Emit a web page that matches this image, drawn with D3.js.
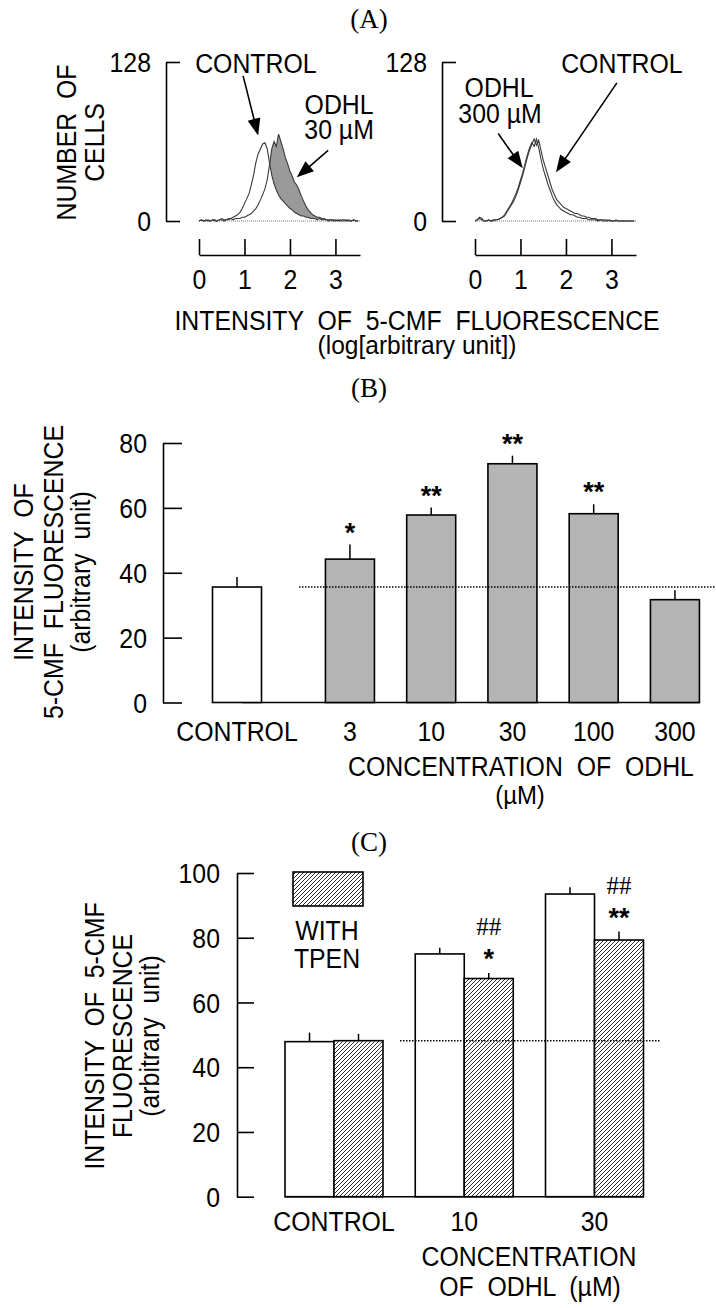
<!DOCTYPE html>
<html><head><meta charset="utf-8">
<script src="https://cdn.jsdelivr.net/npm/d3@7"></script>
<style>
body{margin:0;background:#fff}
svg{display:block}
</style>
</head><body>
<svg id="chart" width="716" height="1308"></svg>
<script>
// ---------------- DATA ----------------
// Panel A: flow-cytometry histograms (counts per 0.05 log-unit bin, from 0 to 3.5)
const histBinWidth = 0.05;
const histXTicks = [0, 1, 2, 3];
const histYTicks = [0, 128];
const histLeftControl = [0,1,0,1,0,0,1,1,0,1,2,1,1,2,2,3,4,5,7,10,14,18,22,29,37,47,54,58,62,63,58,47,37,30,25,21,18,16,14,12,10,9,7,6,5,4,4,3,3,2,2,2,1,2,1,1,1,0,1,1,0,1,0,1,1,0,1,0,1,0,0];
const histLeftODHL30 = [0,1,0,0,1,0,1,0,0,1,1,0,1,1,2,1,2,2,2,3,3,4,5,6,8,10,13,17,21,26,33,45,58,64,60,70,64,58,51,46,40,36,31,29,25,20,16,12,9,7,5,4,3,3,2,2,1,1,1,0,1,0,1,0,0,1,0,0,1,0,0];
const histRightControl = [0,1,3,2,0,0,1,0,1,1,1,2,3,4,7,10,13,16,20,25,31,37,44,51,57,62,66,61,65,57,49,43,37,31,25,21,17,15,13,11,10,9,8,7,6,6,5,4,4,3,3,2,2,2,1,1,1,1,0,1,0,0,1,0,0,0,0,0,0,0,0];
const histRightODHL300 = [0,1,2,1,0,0,1,0,0,1,1,2,3,5,8,11,14,18,22,27,33,39,46,53,59,63,60,66,59,50,42,36,30,25,20,16,13,11,9,8,7,6,5,5,4,3,3,2,2,2,1,1,1,1,0,1,0,0,1,0,0,0,0,0,0,0,0,0,0,0,0];

// Panel B: concentration dependence
const concCategories = ["CONTROL", "3", "10", "30", "100", "300"];
const concMeans = [35.6, 44.2, 57.8, 73.6, 58.2, 31.7];
const concSEM = [3.1, 4.5, 2.3, 2.5, 2.9, 2.9];
const concSig = ["", "*", "**", "**", "**", ""];
const concYTicks = [0, 20, 40, 60, 80];

// Panel C: effect of TPEN
const tpenCategories = ["CONTROL", "10", "30"];
const tpenWithout = [47.9, 75.0, 93.5];
const tpenWithoutSEM = [2.8, 1.9, 2.1];
const tpenWith = [48.2, 67.4, 79.3];
const tpenWithSEM = [2.1, 1.7, 2.6];
const tpenSigStar = ["", "*", "**"];
const tpenSigHash = ["", "##", "##"];
const tpenYTicks = [0, 20, 40, 60, 80, 100];

// ---------------- HELPERS ----------------
const FONT = '"Liberation Sans", Arial, Helvetica, sans-serif';
const SERIF = '"Liberation Serif", "Times New Roman", serif';
const FS = 27, SX = 0.92;
const svg = d3.select("#chart");

const defs = svg.append("defs");
const pat = defs.append("pattern").attr("id", "hatch").attr("patternUnits", "userSpaceOnUse")
  .attr("width", 4).attr("height", 4);
pat.append("rect").attr("width", 4).attr("height", 4).attr("fill", "#fff");
pat.append("path").attr("d", "M-1,1L1,-1M0,4L4,0M3,5L5,3").attr("stroke", "#333").attr("stroke-width", 1);

function txt(g, s, x, y, o = {}) {
  const sx = o.sx !== undefined ? o.sx : (o.family === SERIF || o.weight === "bold" ? 1 : SX);
  return g.append("text").attr("transform", `translate(${x},${y}) scale(${sx},1)`)
    .attr("text-anchor", o.anchor || "middle")
    .attr("font-size", o.size || FS)
    .attr("font-family", o.family || FONT)
    .attr("font-weight", o.weight || "normal")
    .attr("fill", "#000")
    .attr("xml:space", "preserve").style("white-space", "pre")
    .text(s);
}
function vtxt(g, s, bx, cy) {
  return g.append("text").attr("transform", `translate(${bx},${cy}) rotate(-90) scale(${SX},1)`)
    .attr("text-anchor", "middle").attr("font-size", FS).attr("font-family", FONT)
    .attr("fill", "#000").attr("xml:space", "preserve").style("white-space", "pre").text(s);
}
function arrow(g, x1, y1, x2, y2) {
  const dx = x2 - x1, dy = y2 - y1, L = Math.hypot(dx, dy), ux = dx / L, uy = dy / L;
  const hl = 17, hw = 6.5;
  const bx = x2 - ux * hl, by = y2 - uy * hl;
  g.append("line").attr("x1", x1).attr("y1", y1).attr("x2", bx + ux * 2).attr("y2", by + uy * 2)
    .attr("stroke", "#000").attr("stroke-width", 1.6);
  g.append("path").attr("d", `M${x2},${y2}L${bx - uy * hw},${by + ux * hw}L${bx + uy * hw},${by - ux * hw}Z`)
    .attr("fill", "#000");
}
function styleAxis(g) {
  g.attr("font-size", FS).attr("font-family", FONT);
  g.selectAll("path,line").attr("stroke", "#000").attr("stroke-width", 1.6);
  g.selectAll("text").attr("fill", "#000").each(function () {
    const x = +(this.getAttribute("x") || 0);
    this.setAttribute("x", 0);
    this.setAttribute("transform", `translate(${x},0) scale(${SX},1)`);
  });
}

// ---------------- PANEL A ----------------
txt(svg, "(A)", 369, 28, { family: SERIF, size: 27 });
vtxt(svg, "NUMBER  OF", 75.7, 142.5);
vtxt(svg, "CELLS", 103.7, 142.5);

function drawHist(axisX, x0, control, treat, fillDiff) {
  const g = svg.append("g");
  const x = d3.scaleLinear().domain([0, 3.54]).range([x0, x0 + 161]);
  const y = d3.scaleLinear().domain([0, 128]).range([221, 62]);
  const yAx = g.append("g").attr("transform", `translate(${axisX},0)`)
    .call(d3.axisLeft(y).tickValues(histYTicks).tickSize(-14).tickSizeOuter(0).tickPadding(15));
  styleAxis(yAx);
  yAx.selectAll("text").attr("dy", "0.36em");
  const xAx = g.append("g").attr("transform", "translate(0,255)")
    .call(d3.axisBottom(x).tickValues(histXTicks).tickFormat(d3.format("d")).tickSize(-16).tickSizeOuter(0).tickPadding(14.5));
  styleAxis(xAx);
  // dotted baseline
  g.append("line").attr("x1", x(0)).attr("x2", x(3.54)).attr("y1", y(0)).attr("y2", y(0))
    .attr("stroke", "#777").attr("stroke-width", 1).attr("stroke-dasharray", "1,1");
  const xi = (d, i) => x(i * histBinWidth);
  if (fillDiff) {
    const area = d3.area().x(xi).y0((d, i) => y(control[i])).y1((d, i) => y(Math.max(control[i], treat[i])));
    g.append("path").datum(treat).attr("d", area).attr("fill", "#9a9a9a");
  }
  const line = d3.line().x(xi).y(d => y(d));
  [control, treat].forEach(s => {
    g.append("path").datum(s).attr("d", line).attr("fill", "none").attr("stroke", "#3a3a3a").attr("stroke-width", 1.1);
  });
  return { g, x, y };
}

const hl = drawHist(166, 199, histLeftControl, histLeftODHL30, true);
const hr = drawHist(442, 475, histRightControl, histRightODHL300, false);

// annotations (placed in data units)
txt(svg, "CONTROL", hl.x(1.25), hl.y(127) + 9.7);
arrow(svg, hl.x(0.97), hl.y(116.8), hl.x(1.30), hl.y(68.8));
txt(svg, "ODHL", hl.x(3.08), hl.y(94) + 9.7);
txt(svg, "30 µM", hl.x(3.08), hl.y(73.6) + 9.7);
arrow(svg, hl.x(2.84), hl.y(56.8), hl.x(2.15), hl.y(35.2));

txt(svg, "ODHL", hr.x(0.53), hr.y(107.5) + 9.7);
txt(svg, "300 µM", hr.x(0.55), hr.y(86.4) + 9.7);
arrow(svg, hr.x(0.51), hr.y(70.4), hr.x(1.05), hr.y(42.4));
txt(svg, "CONTROL", hr.x(3.23), hr.y(127.2) + 9.7);
arrow(svg, hr.x(3.12), hr.y(111.2), hr.x(1.78), hr.y(39.2));

txt(svg, "INTENSITY  OF  5-CMF  FLUORESCENCE", 417, 329.5);
txt(svg, "(log[arbitrary unit])", 417, 354, { size: 25, sx: 0.98 });

// ---------------- PANEL B ----------------
txt(svg, "(B)", 369, 397, { family: SERIF, size: 27 });
{
  const g = svg.append("g");
  const y = d3.scaleLinear().domain([0, 80]).range([702.5, 443]);
  const slot = i => (i === 0 ? 0 : i + 0.39);
  const x = d3.scaleLinear().domain([0, 1]).range([237, 318.25]);
  const bw = 49;
  const yAx = g.append("g").attr("transform", "translate(163,0)")
    .call(d3.axisLeft(y).tickValues(concYTicks).tickSize(-19).tickSizeOuter(0).tickPadding(16));
  styleAxis(yAx);
  yAx.selectAll("text").attr("dy", "0.36em");
  // baseline
  g.append("line").attr("x1", 242).attr("x2", x(slot(5)) + bw / 2).attr("y1", y(0)).attr("y2", y(0))
    .attr("stroke", "#000").attr("stroke-width", 1.6);
  concCategories.forEach((c, i) => {
    const cx = x(slot(i));
    g.append("line").attr("x1", cx).attr("x2", cx).attr("y1", y(concMeans[i])).attr("y2", y(concMeans[i] + concSEM[i]))
      .attr("stroke", "#000").attr("stroke-width", 1.5);
    g.append("rect").attr("x", cx - bw / 2).attr("y", y(concMeans[i])).attr("width", bw)
      .attr("height", y(0) - y(concMeans[i])).attr("fill", i === 0 ? "#fff" : "#b4b4b4")
      .attr("stroke", "#000").attr("stroke-width", 1.6);
    txt(g, c, cx, 741.4);
    if (concSig[i]) txt(g, concSig[i], cx, y(concMeans[i] + concSEM[i]) - 3, { weight: "bold", size: 27 });
  });
  // dotted control level
  g.append("line").attr("x1", 299).attr("x2", 716).attr("y1", y(concMeans[0])).attr("y2", y(concMeans[0]))
    .attr("stroke", "#000").attr("stroke-width", 1.5).attr("stroke-dasharray", "1.5,1.5");
  vtxt(g, "INTENSITY  OF", 32.7, 572);
  vtxt(g, "5-CMF  FLUORESCENCE", 62.7, 572);
  vtxt(g, "(arbitrary  unit)", 89.5, 572);
  txt(g, "CONCENTRATION  OF  ODHL", 521, 776);
  txt(g, "(µM)", 520, 804, { size: 26 });
}

// ---------------- PANEL C ----------------
txt(svg, "(C)", 369, 851, { family: SERIF, size: 27 });
{
  const g = svg.append("g");
  const y = d3.scaleLinear().domain([0, 100]).range([1196.7, 873]);
  const x = d3.scalePoint().domain(tpenCategories).range([334, 594.5]);
  const bw = 49;
  const yAx = g.append("g").attr("transform", "translate(237,0)")
    .call(d3.axisLeft(y).tickValues(tpenYTicks).tickSize(-17).tickSizeOuter(0).tickPadding(17));
  styleAxis(yAx);
  yAx.selectAll("text").attr("dy", "0.36em");
  g.append("line").attr("x1", x(tpenCategories[0]) - bw).attr("x2", x(tpenCategories[2]) + bw)
    .attr("y1", y(0)).attr("y2", y(0)).attr("stroke", "#000").attr("stroke-width", 1.6);
  tpenCategories.forEach((c, i) => {
    const cx = x(c);
    const sets = [
      { v: tpenWithout[i], e: tpenWithoutSEM[i], x0: cx - bw, fill: "#fff" },
      { v: tpenWith[i], e: tpenWithSEM[i], x0: cx, fill: "url(#hatch)" }
    ];
    sets.forEach(s => {
      g.append("line").attr("x1", s.x0 + bw / 2).attr("x2", s.x0 + bw / 2).attr("y1", y(s.v)).attr("y2", y(s.v + s.e))
        .attr("stroke", "#000").attr("stroke-width", 1.5);
      g.append("rect").attr("x", s.x0).attr("y", y(s.v)).attr("width", bw).attr("height", y(0) - y(s.v))
        .attr("fill", s.fill).attr("stroke", "#000").attr("stroke-width", 1.6);
    });
    const top = y(tpenWith[i] + tpenWithSEM[i]);
    if (tpenSigStar[i]) txt(g, tpenSigStar[i], cx + bw / 2, top - 5, { weight: "bold", size: 27 });
    if (tpenSigHash[i]) txt(g, tpenSigHash[i], cx + bw / 2, top - 38, { family: SERIF, size: 25 });
    txt(g, c, cx, 1231.4);
  });
  g.append("line").attr("x1", 400).attr("x2", 660).attr("y1", y(tpenWith[0])).attr("y2", y(tpenWith[0]))
    .attr("stroke", "#000").attr("stroke-width", 1.5).attr("stroke-dasharray", "1.5,1.5");
  // legend
  g.append("rect").attr("x", 293).attr("y", 872).attr("width", 70).attr("height", 34)
    .attr("fill", "url(#hatch)").attr("stroke", "#000").attr("stroke-width", 1.6);
  txt(g, "WITH", 327, 939.7);
  txt(g, "TPEN", 327, 967.7);
  vtxt(g, "INTENSITY  OF  5-CMF", 103.7, 1036);
  vtxt(g, "FLUORESCENCE", 131.7, 1036);
  vtxt(g, "(arbitrary  unit)", 159, 1036);
  txt(g, "CONCENTRATION", 529, 1266.4);
  txt(g, "OF  ODHL  (µM)", 530, 1296);
}
</script>
</body></html>
